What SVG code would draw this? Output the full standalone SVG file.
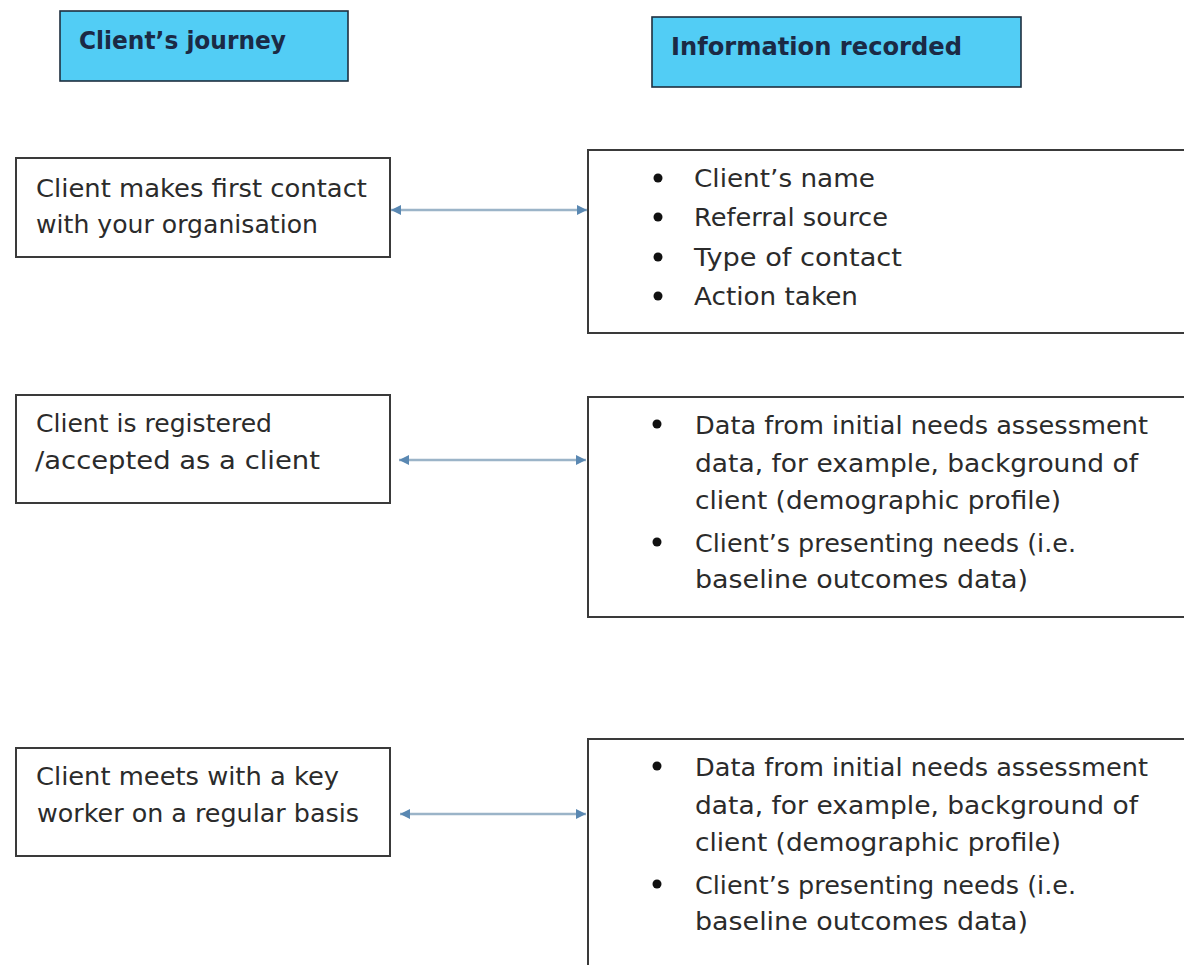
<svg xmlns="http://www.w3.org/2000/svg" width="1184" height="965" viewBox="0 0 1184 965">
<defs>
<style>
.hdr{fill:#52cdf5;stroke:#1f2f3f;stroke-width:1.6}
.htxt{font-family:"DejaVu Sans","Liberation Sans",sans-serif;font-weight:bold;font-size:25px;fill:#1b2a45}
.box{fill:#ffffff;stroke:#3a3a3a;stroke-width:2}
.txt{font-family:"DejaVu Sans","Liberation Sans",sans-serif;font-size:25px;fill:#2b2b2b}
.bul{fill:#111}
.conn{stroke:#9bb4c8;stroke-width:2.5;fill:none;marker-start:url(#ah);marker-end:url(#ah)}
</style>
<marker id="ah" viewBox="0 0 10 10" refX="10" refY="5" markerWidth="11" markerHeight="10" markerUnits="userSpaceOnUse" orient="auto-start-reverse">
<path d="M0,0 L10,5 L0,10 z" fill="#5a88b2"/>
</marker>
</defs>
<rect width="1184" height="965" fill="#ffffff"/>

<g id="header-journey">
<rect class="hdr" x="60" y="11" width="288" height="70"/>
<text class="htxt" x="79" y="49" textLength="207" lengthAdjust="spacingAndGlyphs">Client’s journey</text>
</g>
<g id="header-info">
<rect class="hdr" x="652" y="17" width="369" height="70"/>
<text class="htxt" x="671" y="55" textLength="291" lengthAdjust="spacingAndGlyphs">Information recorded</text>
</g>

<g id="step1">
<rect class="box" x="16" y="158" width="374" height="99"/>
<text class="txt" x="36" y="197" textLength="331" lengthAdjust="spacingAndGlyphs">Client makes first contact</text>
<text class="txt" x="36" y="233" textLength="282" lengthAdjust="spacingAndGlyphs">with your organisation</text>
</g>
<g id="info1">
<rect class="box" x="588" y="150" width="610" height="183"/>
<circle class="bul" cx="658" cy="178" r="4.5"/>
<text class="txt" x="694" y="187" textLength="181" lengthAdjust="spacingAndGlyphs">Client’s name</text>
<circle class="bul" cx="658" cy="217" r="4.5"/>
<text class="txt" x="694" y="226" textLength="194" lengthAdjust="spacingAndGlyphs">Referral source</text>
<circle class="bul" cx="658" cy="257" r="4.5"/>
<text class="txt" x="694" y="266" textLength="208" lengthAdjust="spacingAndGlyphs">Type of contact</text>
<circle class="bul" cx="658" cy="296" r="4.5"/>
<text class="txt" x="694" y="305" textLength="164" lengthAdjust="spacingAndGlyphs">Action taken</text>
</g>

<g id="step2">
<rect class="box" x="16" y="395" width="374" height="108"/>
<text class="txt" x="36" y="432" textLength="236" lengthAdjust="spacingAndGlyphs">Client is registered</text>
<text class="txt" x="35" y="469" textLength="285" lengthAdjust="spacingAndGlyphs">/accepted as a client</text>
</g>
<g id="info2">
<rect class="box" x="588" y="397" width="610" height="220"/>
<circle class="bul" cx="657" cy="424" r="4.5"/>
<text class="txt" x="695" y="434" textLength="453" lengthAdjust="spacingAndGlyphs">Data from initial needs assessment</text>
<text class="txt" x="695" y="472" textLength="443" lengthAdjust="spacingAndGlyphs">data, for example, background of</text>
<text class="txt" x="695" y="509" textLength="366" lengthAdjust="spacingAndGlyphs">client (demographic profile)</text>
<circle class="bul" cx="657" cy="542" r="4.5"/>
<text class="txt" x="695" y="552" textLength="381" lengthAdjust="spacingAndGlyphs">Client’s presenting needs (i.e.</text>
<text class="txt" x="695" y="588" textLength="333" lengthAdjust="spacingAndGlyphs">baseline outcomes data)</text>
</g>

<g id="step3">
<rect class="box" x="16" y="748" width="374" height="108"/>
<text class="txt" x="36" y="785" textLength="303" lengthAdjust="spacingAndGlyphs">Client meets with a key</text>
<text class="txt" x="37" y="822" textLength="322" lengthAdjust="spacingAndGlyphs">worker on a regular basis</text>
</g>
<g id="info3">
<rect class="box" x="588" y="739" width="610" height="240"/>
<circle class="bul" cx="657" cy="766" r="4.5"/>
<text class="txt" x="695" y="776" textLength="453" lengthAdjust="spacingAndGlyphs">Data from initial needs assessment</text>
<text class="txt" x="695" y="814" textLength="443" lengthAdjust="spacingAndGlyphs">data, for example, background of</text>
<text class="txt" x="695" y="851" textLength="366" lengthAdjust="spacingAndGlyphs">client (demographic profile)</text>
<circle class="bul" cx="657" cy="884" r="4.5"/>
<text class="txt" x="695" y="894" textLength="381" lengthAdjust="spacingAndGlyphs">Client’s presenting needs (i.e.</text>
<text class="txt" x="695" y="930" textLength="333" lengthAdjust="spacingAndGlyphs">baseline outcomes data)</text>
</g>

<g id="connectors">
<line class="conn" x1="391" y1="210" x2="587" y2="210"/>
<line class="conn" x1="399" y1="460" x2="586" y2="460"/>
<line class="conn" x1="400" y1="814" x2="586" y2="814"/>
</g>
</svg>
